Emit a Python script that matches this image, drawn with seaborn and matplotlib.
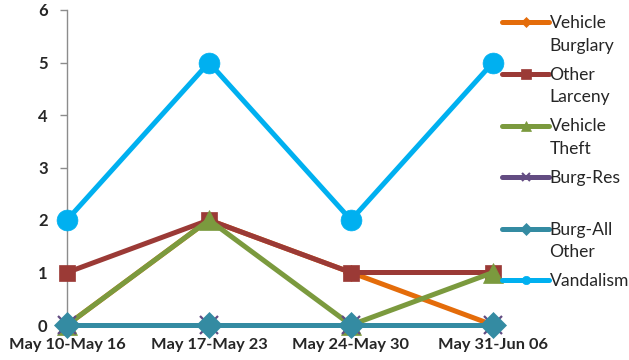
import matplotlib
matplotlib.use("Agg")
import matplotlib.pyplot as plt
import seaborn as sns
from matplotlib.lines import Line2D

weeks = ["May 10-May 16", "May 17-May 23", "May 24-May 30", "May 31-Jun 06"]
series_names = ["Vehicle\nBurglary", "Other\nLarceny", "Vehicle\nTheft", "Burg-Res\n ", "Burg-All\nOther", "Vandalism"]
vehicle_burglary = [0, 2, 1, 0]
other_larceny = [1, 2, 1, 1]
vehicle_theft = [0, 2, 0, 1]
burg_res = [0, 0, 0, 0]
burg_all_other = [0, 0, 0, 0]
vandalism = [2, 5, 2, 5]
yticks = [0, 1, 2, 3, 4, 5, 6]

values = [vehicle_burglary, other_larceny, vehicle_theft, burg_res, burg_all_other, vandalism]
colors = ["#E46C0A", "#9B3A36", "#7B9A3E", "#634C82", "#348BA2", "#00B0F0"]
markers = ["D", "s", "^", "x", "D", "o"]
msizes = [8, 12, 14, 13, 13, 15]
legend_ms = [5, 7, 7, 6, 6, 6]

sns.set_style("white")
plt.rcParams["font.family"] = ["Lato", "DejaVu Sans"]

fig = plt.figure(figsize=(6.29, 3.60), dpi=100)
ax = fig.add_axes([67/629, 1 - 325/360, (493 - 67)/629, (325 - 10)/360])

for i, (name, vals) in enumerate(zip(series_names, values)):
    sns.lineplot(x=weeks, y=vals, ax=ax, color=colors[i], marker=markers[i],
                 markersize=msizes[i], linewidth=3.6, label=name, sort=False,
                 markeredgecolor=colors[i], markeredgewidth=1.6 if markers[i] == "x" else 0.5,
                 clip_on=False, zorder=3 + i)

ax.set_xlim(0, 3)
ax.set_ylim(0, 6)
ax.set_yticks(yticks)
ax.set_yticklabels([str(v) for v in yticks], fontweight="bold", fontsize=12)
ax.set_xticks(range(len(weeks)))
ax.set_xticklabels(weeks, fontweight="bold", fontsize=11.8)
ax.set_xlabel("")
ax.set_ylabel("")
for s in ["top", "right"]:
    ax.spines[s].set_visible(False)
ax.spines["left"].set_color("#8C8C8C")
ax.spines["bottom"].set_color("#8C8C8C")
ax.spines["left"].set_linewidth(1.0)
ax.tick_params(axis="y", direction="out", length=5, width=1, color="#8C8C8C", pad=9, left=True)
ax.tick_params(axis="x", length=0, pad=9)
ax.grid(False)

handles, labels = ax.get_legend_handles_labels()
ax.get_legend().remove()
lh = [Line2D([], [], color=colors[i], marker=markers[i], markersize=legend_ms[i],
             linewidth=3.6, markeredgewidth=1.5 if markers[i] == "x" else 0.5,
             markeredgecolor=colors[i]) for i in range(len(colors))]
leg = fig.legend(lh, labels, loc="upper left", bbox_to_anchor=(502/629, 1 - 15/360),
                 frameon=False, fontsize=12.6, handlelength=2.7, handletextpad=0.02,
                 borderpad=0, borderaxespad=0, labelspacing=0.75, handleheight=1.15)
for t in leg.get_texts():
    t.set_linespacing(1.5)
for vp in leg._legend_handle_box.get_children():
    for hp in vp.get_children():
        hp.align = "top"

fig.savefig("out.png", dpi=100)
